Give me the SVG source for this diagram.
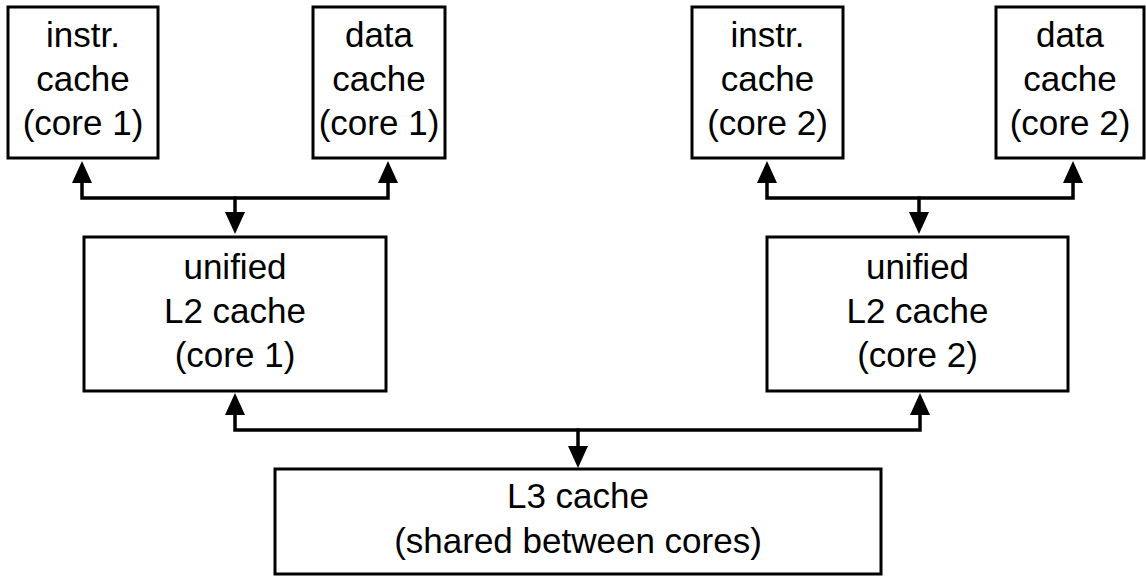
<svg xmlns="http://www.w3.org/2000/svg" width="1146" height="576" viewBox="0 0 1146 576">
<style>
.box{fill:#fff;stroke:#000;stroke-width:3}
.t{font-family:"Liberation Sans",Arial,sans-serif;font-size:35px;fill:#000;text-anchor:middle}
.c{fill:none;stroke:#000;stroke-width:3.5;stroke-linejoin:miter}
</style>
<defs>
<marker id="ah" markerUnits="userSpaceOnUse" markerWidth="22" markerHeight="20" refX="0" refY="10" orient="auto-start-reverse" viewBox="0 0 22 20">
<path d="M0,0 L22,10 L0,20 z" fill="#000"/>
</marker>
</defs>
<rect width="1146" height="576" fill="#fff"/>
<g id="connectors">
<path class="c" d="M82,183 V198 H388 V183" marker-start="url(#ah)" marker-end="url(#ah)"/>
<path class="c" d="M235,196.5 V212" marker-end="url(#ah)"/>
<path class="c" d="M767,183 V198 H1073 V183" marker-start="url(#ah)" marker-end="url(#ah)"/>
<path class="c" d="M919,196.5 V212" marker-end="url(#ah)"/>
<path class="c" d="M235,415 V430 H920 V415" marker-start="url(#ah)" marker-end="url(#ah)"/>
<path class="c" d="M578,428.5 V446" marker-end="url(#ah)"/>
</g>
<g id="instr1">
<rect class="box" x="8" y="7" width="150" height="151"/>
<text class="t" x="83" y="47">instr.</text>
<text class="t" x="83" y="91">cache</text>
<text class="t" x="83" y="135">(core 1)</text>
</g>
<g id="data1">
<rect class="box" x="313" y="7" width="132" height="151"/>
<text class="t" x="379" y="47">data</text>
<text class="t" x="379" y="91">cache</text>
<text class="t" x="379" y="135">(core 1)</text>
</g>
<g id="instr2">
<rect class="box" x="692" y="7" width="151" height="151"/>
<text class="t" x="767.5" y="47">instr.</text>
<text class="t" x="767.5" y="91">cache</text>
<text class="t" x="767.5" y="135">(core 2)</text>
</g>
<g id="data2">
<rect class="box" x="996" y="7" width="148" height="151"/>
<text class="t" x="1070" y="47">data</text>
<text class="t" x="1070" y="91">cache</text>
<text class="t" x="1070" y="135">(core 2)</text>
</g>
<g id="l2core1">
<rect class="box" x="84" y="237" width="302" height="154"/>
<text class="t" x="235" y="279">unified</text>
<text class="t" x="235" y="323">L2 cache</text>
<text class="t" x="235" y="367">(core 1)</text>
</g>
<g id="l2core2">
<rect class="box" x="767" y="237" width="301" height="154"/>
<text class="t" x="917.5" y="279">unified</text>
<text class="t" x="917.5" y="323">L2 cache</text>
<text class="t" x="917.5" y="367">(core 2)</text>
</g>
<g id="l3">
<rect class="box" x="275" y="469" width="606" height="105"/>
<text class="t" x="578" y="508">L3 cache</text>
<text class="t" x="578" y="553">(shared between cores)</text>
</g>
</svg>
